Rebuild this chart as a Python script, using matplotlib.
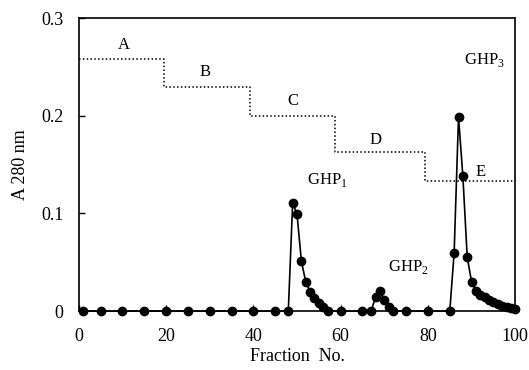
import matplotlib
matplotlib.use('Agg')
import matplotlib.pyplot as plt

plt.rcParams['font.family'] = ['Liberation Serif', 'DejaVu Serif']

# Elution profile (A 280 nm) by fraction number
fraction = [1, 5, 10, 15, 20, 25, 30, 35, 40, 45, 48, 49, 50, 51, 52, 53, 54, 55, 56, 57,
            60, 65, 67, 68, 69, 70, 71, 72, 75, 80, 85, 86, 87, 88, 89, 90,
            91, 92, 93, 94, 95, 96, 97, 98, 99, 100]
absorbance = [0, 0, 0, 0, 0, 0, 0, 0, 0, 0, 0, 0.111, 0.099, 0.051, 0.030, 0.020, 0.013, 0.008, 0.004, 0.0,
              0, 0, 0, 0.015, 0.021, 0.011, 0.004, 0, 0, 0, 0, 0.060, 0.199, 0.138, 0.055, 0.030,
              0.021, 0.017, 0.014, 0.011, 0.009, 0.007, 0.005, 0.004, 0.003, 0.002]

# Stepwise gradient (dotted)
step_x = [0, 19.5, 19.5, 39.3, 39.3, 58.8, 58.8, 79.4, 79.4, 100]
step_y = [0.258, 0.258, 0.230, 0.230, 0.200, 0.200, 0.163, 0.163, 0.133, 0.133]

step_labels = ['A', 'B', 'C', 'D', 'E']
step_label_x = [10.3, 29, 49, 68, 92]
step_label_y = [0.272, 0.245, 0.215, 0.175, 0.142]

peak_labels = ['GHP$_\\mathregular{1}$', 'GHP$_\\mathregular{2}$', 'GHP$_\\mathregular{3}$']
peak_label_x = [57, 75.5, 93]
peak_label_y = [0.134, 0.045, 0.257]

fig = plt.figure(figsize=(5.29, 3.70), dpi=100)
ax = fig.add_axes([0.149, 0.159, 0.825, 0.792])

ax.plot(step_x, step_y, color='black', linestyle=(0, (1, 1.5)), linewidth=1.1)
ax.plot(fraction, absorbance, color='black', linewidth=1.2, marker='o', markersize=6,
        clip_on=False, zorder=3)

for lab, x, y in zip(step_labels, step_label_x, step_label_y):
    ax.text(x, y, lab, ha='center', va='center', fontsize=12)
for lab, x, y in zip(peak_labels, peak_label_x, peak_label_y):
    ax.text(x, y, lab, ha='center', va='center', fontsize=12)

ax.set_xlim(0, 100)
ax.set_ylim(0, 0.3)
ax.set_xticks([0, 20, 40, 60, 80, 100])
ax.set_yticks([0, 0.1, 0.2, 0.3])
ax.set_yticklabels(['0', '0.1', '0.2', '0.3'])
ax.tick_params(direction='in', length=4, width=1, labelsize=13)
ax.tick_params(axis='x', pad=12)
ax.tick_params(axis='y', pad=11)
ax.set_xlabel('Fraction  No.', fontsize=13, labelpad=2)
ax.set_ylabel('A 280 nm', fontsize=13, labelpad=9)
for s in ax.spines.values():
    s.set_linewidth(1.2)

plt.savefig('out.png')
